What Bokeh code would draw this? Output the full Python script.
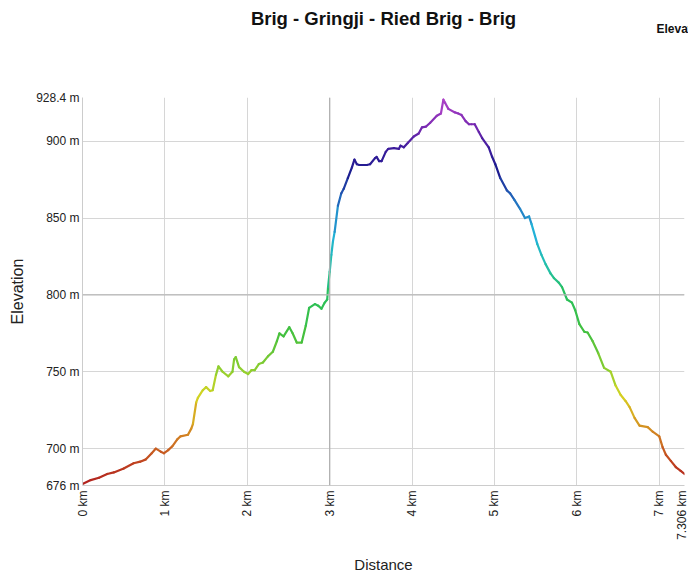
import math
from bokeh.plotting import figure
from bokeh.models import ColumnDataSource, Range1d, FixedTicker, Span, Title, LinearAxis
from bokeh.transform import linear_cmap
from bokeh.embed import file_html
from bokeh.resources import INLINE

TITLE = "Brig - Gringji - Ried Brig - Brig"

dist_km = [0, 0.1, 0.2, 0.3, 0.38, 0.5, 0.62, 0.7, 0.77, 0.84, 0.89, 0.95, 0.99,
           1.04, 1.09, 1.15, 1.19, 1.28, 1.32, 1.34, 1.38, 1.40, 1.46, 1.50, 1.55,
           1.58, 1.62, 1.65, 1.70, 1.77, 1.82, 1.84, 1.86, 1.90, 1.96, 2.01, 2.05,
           2.09, 2.14, 2.19, 2.25, 2.31, 2.36, 2.39, 2.44, 2.51, 2.55, 2.60, 2.66,
           2.71, 2.75, 2.82, 2.86, 2.90, 2.94, 2.97, 2.98, 3.00, 3.02, 3.04, 3.06,
           3.10, 3.14, 3.17, 3.22, 3.27, 3.30, 3.33, 3.36, 3.45, 3.49, 3.55, 3.57,
           3.60, 3.63, 3.68, 3.71, 3.78, 3.84, 3.86, 3.90, 3.95, 4.02, 4.08, 4.12,
           4.17, 4.22, 4.30, 4.35, 4.38, 4.40, 4.44, 4.52, 4.56, 4.60, 4.65, 4.69,
           4.72, 4.76, 4.81, 4.85, 4.93, 4.97, 5.01, 5.07, 5.15, 5.19, 5.24, 5.31,
           5.37, 5.42, 5.45, 5.52, 5.57, 5.62, 5.68, 5.72, 5.78, 5.82, 5.88, 5.94,
           5.98, 6.03, 6.09, 6.13, 6.19, 6.26, 6.33, 6.41, 6.47, 6.53, 6.59, 6.64,
           6.70, 6.76, 6.86, 6.92, 7.00, 7.04, 7.08, 7.14, 7.20, 7.26, 7.306]
elev_m = [677, 679.5, 681, 683.5, 684.5, 687, 690.5, 691.5, 693, 697, 700, 698, 697,
          699, 701.5, 706, 708, 709, 713, 716, 730, 733, 738, 740, 737.5,
          738, 748, 753.5, 750, 747, 750, 758, 759.5, 753, 750, 748.5, 751,
          751, 755, 756, 760, 763, 770, 775, 773, 779, 775, 769, 769,
          780, 791.5, 794, 793, 791, 795, 797, 805, 815, 826, 835, 841,
          858, 866, 869, 876, 883, 888, 885, 884.5, 884.5, 885, 889, 889.7,
          887, 887, 893, 895, 895.5, 895, 897, 896, 899, 903, 905, 909,
          909.5, 912, 916.5, 918, 927, 925, 921, 918.7, 918, 917, 913, 911,
          911, 911, 906, 902, 896, 890, 885, 876, 868, 866, 862, 856,
          850, 851, 846, 833, 826, 820, 814, 811, 808, 805, 797, 795,
          790, 781, 776, 775.5, 770, 762, 752.5, 750, 741, 735, 731, 727,
          720, 715, 714, 711, 708, 701, 696, 692, 688, 685.5, 683.5]

x_ticks = [0, 1, 2, 3, 4, 5, 6, 7, 7.306]
x_labels = ["0 km", "1 km", "2 km", "3 km", "4 km", "5 km", "6 km", "7 km", "7.306 km"]
y_ticks = [676, 700, 750, 800, 850, 900, 928.4]
y_labels = ["676 m", "700 m", "750 m", "800 m", "850 m", "900 m", "928.4 m"]

# colour ramp (style): red -> orange -> yellow -> green -> cyan -> blue -> purple
stops = [(0.00, "#b01e1e"), (0.06, "#c04420"), (0.12, "#d07a22"), (0.19, "#d8b022"),
         (0.23, "#d6d422"), (0.29, "#96d02e"), (0.39, "#44c03e"), (0.49, "#28c05c"),
         (0.57, "#22c0b0"), (0.65, "#22b0d8"), (0.73, "#2270c0"), (0.81, "#1c1c90"),
         (0.87, "#3c1c9c"), (0.93, "#7a2ab2"), (1.00, "#b444ca")]


def _hex(c):
    return tuple(int(c[i:i + 2], 16) for i in (1, 3, 5))


palette = []
for i in range(256):
    t = i / 255
    for (t0, c0), (t1, c1) in zip(stops[:-1], stops[1:]):
        if t0 <= t <= t1:
            f = (t - t0) / (t1 - t0) if t1 > t0 else 0
            a, b = _hex(c0), _hex(c1)
            palette.append("#%02x%02x%02x" % tuple(round(a[k] + (b[k] - a[k]) * f) for k in range(3)))
            break

src = ColumnDataSource(dict(
    x0=dist_km[:-1], y0=elev_m[:-1], x1=dist_km[1:], y1=elev_m[1:],
    mid=[(a + b) / 2 for a, b in zip(elev_m[:-1], elev_m[1:])],
))

FONT = "Liberation Sans"

p = figure(width=688, height=575, output_backend="svg", toolbar_location=None,
           x_range=Range1d(0, 7.306), y_range=Range1d(676, 928.4),
           min_border_left=82, min_border_right=4, min_border_top=97, min_border_bottom=90)
p.background_fill_color = "white"
p.border_fill_color = "white"
p.outline_line_color = None

xax = p.below[0]
yax = p.left[0]

# invisible spacer between the frame and the captions above it
spacer = LinearAxis(ticker=FixedTicker(ticks=[0]), axis_line_color=None,
                    major_tick_line_color=None, minor_tick_line_color=None,
                    major_tick_out=66, major_tick_in=0, minor_tick_out=0,
                    major_label_standoff=0, major_label_overrides={0: ""})
p.add_layout(spacer, "above")

# "Elevation" legend caption, partly off the right edge as in the original
p.add_layout(Title(text="Elevation", align="left", offset=574, standoff=-8,
                   text_font=FONT, text_font_size="12px",
                   text_font_style="bold", text_color="#111111"),
             "above")

# main title (outermost)
p.title.text = TITLE
p.title.align = "center"
p.title.standoff = -11
p.title.text_font = FONT
p.title.text_font_size = "18.5px"
p.title.text_font_style = "bold"
p.title.text_color = "#111111"

p.segment("x0", "y0", "x1", "y1", source=src, line_width=2.2, line_cap="round",
          color=linear_cmap("mid", palette, 676, 928.4))

xax.ticker = FixedTicker(ticks=x_ticks)
yax.ticker = FixedTicker(ticks=y_ticks)
xax.major_label_overrides = dict(zip(x_ticks, x_labels))
yax.major_label_overrides = dict(zip(y_ticks, y_labels))
xax.major_label_orientation = math.pi / 2

for ax in (xax, yax):
    ax.major_tick_out = 0
    ax.major_tick_in = 0
    ax.minor_tick_out = 0
    ax.minor_tick_in = 0
    ax.axis_line_color = "#cccccc"
    ax.major_label_text_font = FONT
    ax.major_label_text_font_size = "12px"
    ax.major_label_text_color = "#222222"
    ax.axis_label_text_font = FONT
    ax.axis_label_text_font_style = "normal"
    ax.axis_label_text_color = "#222222"

xax.major_label_standoff = 5
yax.major_label_standoff = 3
xax.axis_label = "Distance"
yax.axis_label = "Elevation"
xax.axis_label_text_font_size = "15px"
yax.axis_label_text_font_size = "16px"
xax.axis_label_standoff = 13
yax.axis_label_standoff = 7

p.xgrid.ticker = FixedTicker(ticks=x_ticks)
p.ygrid.ticker = FixedTicker(ticks=y_ticks)
p.xgrid.grid_line_color = "#d6d6d6"
p.ygrid.grid_line_color = "#d6d6d6"
p.add_layout(Span(location=3, dimension="height", line_color="#b0b0b0", line_width=1.3))
p.add_layout(Span(location=800, dimension="width", line_color="#b8b8b8", line_width=1.3))
p.renderers.insert(0, p.renderers.pop())
p.renderers.insert(0, p.renderers.pop())

open("out.html", "w").write(file_html(p, INLINE))
